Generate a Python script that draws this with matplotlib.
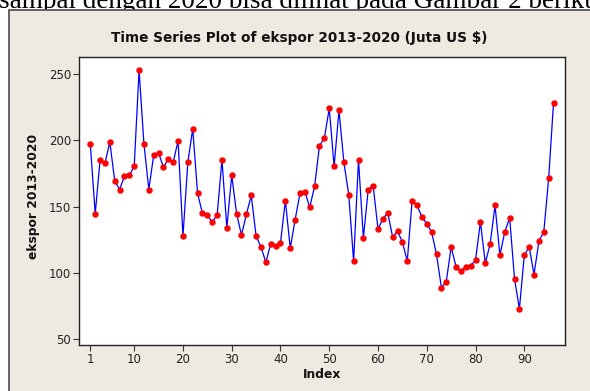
import numpy as np
import matplotlib
matplotlib.use("Agg")
import matplotlib.pyplot as plt
from matplotlib.patches import Rectangle

# ekspor bulanan 2013-2020 (Juta US $), 96 observasi
ekspor = [
    197.0, 144.5, 185.0, 182.5, 198.5, 169.5, 162.8, 172.8, 173.5, 180.3,
    252.5, 197.0, 162.8, 188.8, 190.3, 179.5, 185.8, 183.3, 199.5, 127.8,
    183.3, 208.5, 159.8, 144.8, 143.3, 138.5, 143.3, 185.0, 134.0, 173.5,
    144.6, 128.5, 144.0, 158.3, 127.8, 119.5, 108.0, 122.0, 120.3, 122.5,
    154.5, 118.5, 140.0, 159.8, 161.3, 149.3, 165.3, 195.8, 201.5, 223.8,
    180.3, 222.3, 183.3, 159.0, 108.8, 185.0, 126.3, 162.8, 165.8, 133.0,
    140.8, 145.3, 127.0, 131.5, 123.3, 108.8, 154.5, 150.8, 142.3, 137.0,
    130.8, 114.0, 89.0, 93.5, 119.5, 104.8, 101.3, 104.8, 105.5, 109.5,
    138.5, 107.3, 121.8, 150.8, 113.3, 130.8, 141.5, 95.3, 73.0, 113.3,
    119.5, 98.8, 124.0, 130.8, 171.3, 228.3,
]
index = np.arange(1, len(ekspor) + 1)

xticks = [1, 10, 20, 30, 40, 50, 60, 70, 80, 90]
yticks = [50, 100, 150, 200, 250]

judul = "Time Series Plot of ekspor 2013-2020 (Juta US $)"
teks_dokumen = "sampai dengan 2020 bisa dilihat pada Gambar 2 berikut"

W, H = 590, 391
fig = plt.figure(figsize=(W / 100, H / 100), dpi=100, facecolor="white")

# potongan baris teks dokumen di atas gambar
fig.text(-0.002, 1 - 7.5 / H, teks_dokumen, family="Liberation Serif",
         fontsize=19.5, va="baseline", ha="left", color="black", zorder=-20)

# latar panel Minitab (di belakang axes)
fig.patches.append(Rectangle((9 / W, -0.05), 1.2, (H - 10) / H + 0.05,
                             transform=fig.transFigure, facecolor="#EEEAE1",
                             edgecolor="#555555", linewidth=1.3, zorder=-10))

ax = fig.add_axes([79.3 / W, 1 - 344.5 / H, (565 - 79.3) / W, (344.5 - 56.7) / H])
ax.set_facecolor("white")
ax.plot(index, ekspor, color="blue", linewidth=0.9, zorder=2)
ax.plot(index, ekspor, linestyle="none", marker="o", markersize=3.6,
        color="red", markeredgecolor="red", zorder=3)

ax.set_xlim(-1.26, 98.35)
ax.set_ylim(46.1, 262.8)
ax.set_xticks(xticks)
ax.set_yticks(yticks)
ax.tick_params(direction="out", length=4, width=0.8, color="#333333",
               labelsize=8.5, pad=2, labelcolor="#222222")
for s in ax.spines.values():
    s.set_linewidth(1.0)
    s.set_color("#222222")

fig.text(299 / W, 1 - 38 / H, judul, ha="center", va="center",
         fontsize=9.8, fontweight="bold", color="#111111")
fig.text(33 / W, 1 - 196 / H, "ekspor 2013-2020", rotation=90, ha="center",
         va="center", fontsize=8.8, fontweight="bold", color="#111111")
fig.text(321.7 / W, 1 - 375 / H, "Index", ha="center", va="center",
         fontsize=8.8, fontweight="bold", color="#111111")

fig.savefig("out.png", dpi=100, facecolor=fig.get_facecolor())
